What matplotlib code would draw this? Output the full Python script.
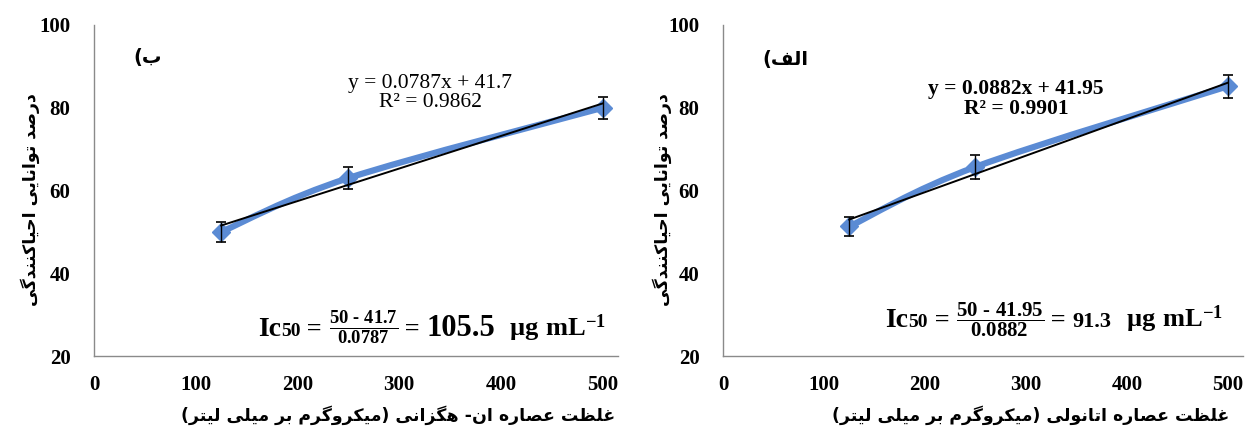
import numpy as np
import matplotlib
matplotlib.use('Agg')
import matplotlib.pyplot as plt
from matplotlib.path import Path
from matplotlib.patches import PathPatch
from matplotlib.offsetbox import TextArea, HPacker, AnnotationBbox

plt.rcParams['mathtext.fontset'] = 'custom'
plt.rcParams['mathtext.rm'] = 'Liberation Serif:bold'
plt.rcParams['mathtext.it'] = 'Liberation Serif:bold'
plt.rcParams['mathtext.bf'] = 'Liberation Serif:bold'

# concentrations (ug/mL)
conc = [125, 250, 500]

# n-hexane extract (panel b)
hex_vals = [50.0, 63.0, 80.0]
hex_err = [2.5, 2.6, 2.6]
hex_slope, hex_icpt, hex_r2 = 0.0787, 41.7, 0.9862
hex_ic50 = 105.5

# ethanol extract (panel alef)
eth_vals = [51.3, 65.7, 85.2]
eth_err = [2.3, 2.8, 2.8]
eth_slope, eth_icpt, eth_r2 = 0.0882, 41.95, 0.9901
eth_ic50 = 91.3

x_ticks = [0, 100, 200, 300, 400, 500]
y_ticks = [20, 40, 60, 80, 100]

ylabel_fa = 'درصد توانایی احیاکنندگی'
xlabel_hex = 'غلظت عصاره ان- هگزانی (میکروگرم بر میلی لیتر)'
xlabel_eth = 'غلظت عصاره اتانولی (میکروگرم بر میلی لیتر)'
tag_hex = 'ب)'
tag_eth = 'الف)'

# isolated, final, initial, medial presentation forms
FORMS = {
    'ا': ('\uFE8D', '\uFE8E', None, None),
    'ب': ('\uFE8F', '\uFE90', '\uFE91', '\uFE92'),
    'ت': ('\uFE95', '\uFE96', '\uFE97', '\uFE98'),
    'ح': ('\uFEA1', '\uFEA2', '\uFEA3', '\uFEA4'),
    'د': ('\uFEA9', '\uFEAA', None, None),
    'ر': ('\uFEAD', '\uFEAE', None, None),
    'ز': ('\uFEAF', '\uFEB0', None, None),
    'ص': ('\uFEB9', '\uFEBA', '\uFEBB', '\uFEBC'),
    'ظ': ('\uFEC5', '\uFEC6', '\uFEC7', '\uFEC8'),
    'ع': ('\uFEC9', '\uFECA', '\uFECB', '\uFECC'),
    'غ': ('\uFECD', '\uFECE', '\uFECF', '\uFED0'),
    'ف': ('\uFED1', '\uFED2', '\uFED3', '\uFED4'),
    'ل': ('\uFEDD', '\uFEDE', '\uFEDF', '\uFEE0'),
    'م': ('\uFEE1', '\uFEE2', '\uFEE3', '\uFEE4'),
    'ن': ('\uFEE5', '\uFEE6', '\uFEE7', '\uFEE8'),
    'ه': ('\uFEE9', '\uFEEA', '\uFEEB', '\uFEEC'),
    'و': ('\uFEED', '\uFEEE', None, None),
    'ک': ('\uFB8E', '\uFB8F', '\uFB90', '\uFB91'),
    'گ': ('\uFB92', '\uFB93', '\uFB94', '\uFB95'),
    'ی': ('\uFBFC', '\uFBFD', '\uFBFE', '\uFBFF'),
}


def fa(text):
    # join letters and put them in visual (right-to-left) order
    out = []
    for i, ch in enumerate(text):
        if ch not in FORMS:
            out.append(ch)
            continue
        iso, fin, ini, med = FORMS[ch]
        prev = text[i - 1] if i > 0 else ''
        nxt = text[i + 1] if i + 1 < len(text) else ''
        jp = prev in FORMS and FORMS[prev][2] is not None
        jn = ini is not None and nxt in FORMS
        if jp and jn:
            out.append(med)
        elif jp:
            out.append(fin)
        elif jn:
            out.append(ini)
        else:
            out.append(iso)
    return ''.join(reversed(out)).translate(str.maketrans('()', ')('))


W, H = 1248, 430
fig = plt.figure(figsize=(W / 100, H / 100), dpi=100)

blue = '#5b8bd4'
serif_b = dict(family='Liberation Serif', weight='bold')
arab = dict(family='DejaVu Sans', weight='bold')


def smooth_path(ax, xs, ys, **kw):
    # Bezier curve through the points, like a smoothed line
    p = np.column_stack([xs, ys]).astype(float)
    pe = np.vstack([p[0], p, p[-1]])
    verts = [p[0]]
    codes = [Path.MOVETO]
    for i in range(len(p) - 1):
        c1 = pe[i + 1] + (pe[i + 2] - pe[i]) / 6
        c2 = pe[i + 2] - (pe[i + 3] - pe[i + 1]) / 6
        verts += [c1, c2, p[i + 1]]
        codes += [Path.CURVE4] * 3
    ax.add_patch(PathPatch(Path(verts, codes), fill=False, transform=ax.transData, **kw))


def panel(left_px, width_px, vals, err, slope, icpt):
    ax = fig.add_axes([left_px / W, (H - 356) / H, width_px / W, (356 - 25) / H])
    ax.set_xlim(0, 515)
    ax.set_ylim(20, 100)
    ax.set_xticks(x_ticks)
    ax.set_yticks(y_ticks)
    for s in ['top', 'right']:
        ax.spines[s].set_visible(False)
    for s in ['left', 'bottom']:
        ax.spines[s].set_color('#8a8a8a')
        ax.spines[s].set_linewidth(1.0)
    ax.tick_params(length=0, labelsize=15, pad=14)
    ax.tick_params(axis='y', pad=17)
    for lb in ax.get_xticklabels() + ax.get_yticklabels():
        lb.set_fontfamily('Liberation Serif')
        lb.set_fontweight('bold')
    smooth_path(ax, conc, vals, edgecolor=blue, linewidth=4.5, capstyle='round', zorder=2)
    ax.plot(conc, vals, 'D', color=blue, markersize=9, zorder=3)
    tx = np.array([conc[0], conc[-1]])
    ax.plot(tx, slope * tx + icpt, color='black', linewidth=1.4, zorder=4)
    ax.errorbar(conc, vals, yerr=err, fmt='none', ecolor='black', elinewidth=1.0,
                capsize=3.6, capthick=1.2, zorder=5)
    return ax


ax1 = panel(94, 524, hex_vals, hex_err, hex_slope, hex_icpt)
ax2 = panel(723, 520, eth_vals, eth_err, eth_slope, eth_icpt)


def ftext(x, y, s, **kw):
    fig.text(x / W, (H - y) / H, s, **kw)


# axis titles
ftext(30, 200, fa(ylabel_fa), rotation=90, ha='center', va='center', fontsize=12.5, **arab)
ftext(662, 200, fa(ylabel_fa), rotation=90, ha='center', va='center', fontsize=12.5, **arab)
ftext(398, 415, fa(xlabel_hex), ha='center', va='center', fontsize=12.5, **arab)
ftext(1031, 415, fa(xlabel_eth), ha='center', va='center', fontsize=12.5, **arab)

# panel tags
ftext(148, 57, fa(tag_hex), ha='center', va='center', fontsize=14, **arab)
ftext(785, 60, fa(tag_eth), ha='center', va='center', fontsize=14, **arab)

# trendline equations
ftext(430, 93, 'y = %sx + %s\nR² = %s' % (hex_slope, hex_icpt, hex_r2), ha='center', va='center',
      fontsize=15.5, family='Liberation Serif', linespacing=1.0)
ftext(1016, 99, 'y = %sx + %s\nR² = %s' % (eth_slope, eth_icpt, eth_r2), ha='center', va='center',
      fontsize=15.5, linespacing=1.05, **serif_b)

HYPHEN = '\u2010'


def ic50_box(x, y, icpt, slope, ic50, frac, frac_size, val_size):
    frac_tex = '$' + frac + '{50\\ ' + HYPHEN + '\\ %s}{%s}$' % (icpt, slope)
    parts = [
        TextArea('Ic', textprops=dict(fontsize=20, **serif_b)),
        TextArea('50', textprops=dict(fontsize=14, **serif_b)),
        TextArea(' = ', textprops=dict(fontsize=19, **serif_b)),
        TextArea(frac_tex, textprops=dict(fontsize=frac_size)),
        TextArea(' = ', textprops=dict(fontsize=19, **serif_b)),
        TextArea('%s' % ic50, textprops=dict(fontsize=val_size, **serif_b)),
        TextArea(r'$\mathrm{\ \ µg\ mL}^{-1}$', textprops=dict(fontsize=19)),
    ]
    pack = HPacker(children=parts, align='baseline', pad=0, sep=0)
    ab = AnnotationBbox(pack, (x, H - y), xycoords='figure pixels', box_alignment=(0, 0.5),
                        frameon=False)
    fig.add_artist(ab)


ic50_box(258, 328, hex_icpt, hex_slope, hex_ic50, r'\frac', 19, 22)
ic50_box(885, 320, eth_icpt, eth_slope, eth_ic50, r'\dfrac', 15, 16)

fig.savefig('out.png', dpi=100)
